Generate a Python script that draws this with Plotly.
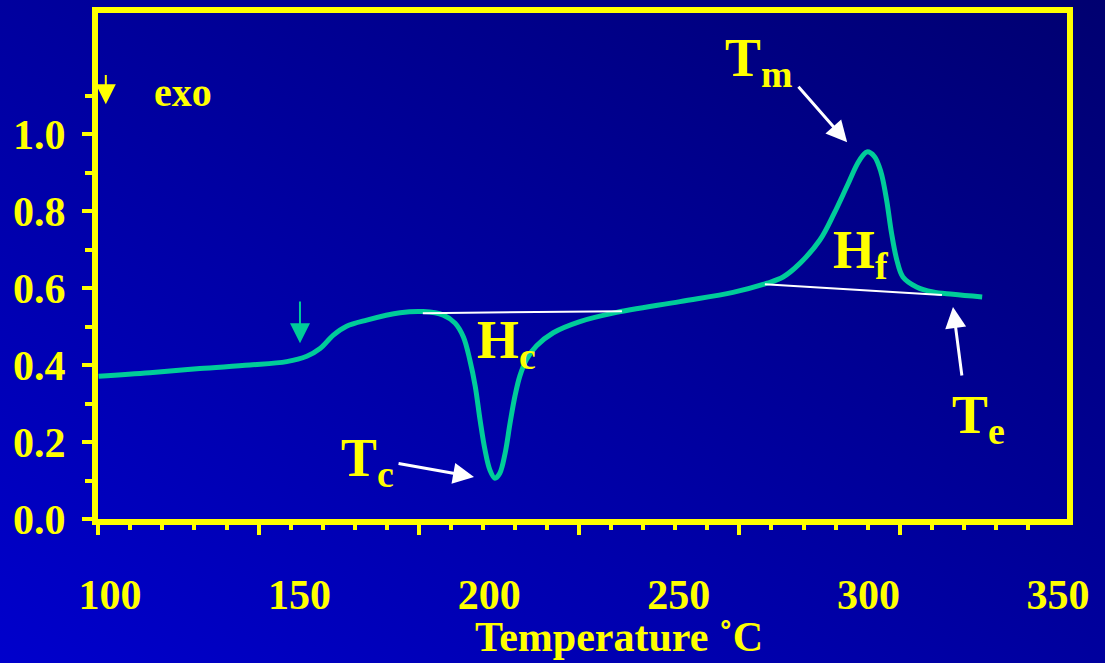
import base64
import plotly.graph_objects as go

# DSC heating trace: temperature (°C) and heat-flow signal
temperature = [97.0, 110.5, 123.7, 136.9, 146.6, 151.9, 155.4, 158.9, 162.4, 167.7,
               176.5, 182.6, 187.9, 191.0, 193.2, 194.9, 196.3, 197.6, 198.9, 200.2,
               201.5, 202.8, 204.2, 205.5, 206.8, 208.1, 209.9, 212.5, 216.9, 223.9,
               232.7, 250.3, 264.3, 273.3, 277.5, 282.0, 287.2, 291.0, 294.5,
               297.5, 299.6, 301.6, 303.3, 304.8, 306.1, 307.5, 309.1, 312.7, 317.0,
               322.3, 330.0]
heat_flow = [0.371, 0.380, 0.391, 0.400, 0.409, 0.423, 0.443, 0.478, 0.501, 0.517,
             0.536, 0.539, 0.530, 0.509, 0.473, 0.413, 0.346, 0.257, 0.179, 0.127,
             0.106, 0.119, 0.171, 0.249, 0.320, 0.372, 0.416, 0.450, 0.484, 0.513,
             0.535, 0.565, 0.589, 0.613, 0.629, 0.665, 0.725, 0.795, 0.868,
             0.930, 0.954, 0.942, 0.902, 0.829, 0.743, 0.673, 0.629, 0.603, 0.590,
             0.584, 0.577]

# integration baselines for crystallisation and fusion peaks
hc_base_t = [182.5, 235.0]
hc_base_v = [0.535, 0.540]
hf_base_t = [272.7, 319.4]
hf_base_v = [0.610, 0.582]

# axis labelling
x_tick_vals = [100, 150, 200, 250, 300, 350]
x_tick_text = ["100", "150", "200", "250", "300", "350"]
y_tick_vals = [0.0, 0.2, 0.4, 0.6, 0.8, 1.0]
y_tick_text = ["0.0", "0.2", "0.4", "0.6", "0.8", "1.0"]
y_minor_vals = [0.1, 0.3, 0.5, 0.7, 0.9, 1.1]
# scale ruler marks along the bottom edge
ruler_major = [100, 150, 200, 250, 300, 350]
ruler_minor = [110, 120, 130, 140, 160, 170, 180, 190, 210, 220, 230, 240,
               260, 270, 280, 290, 310, 320, 330, 340, 360, 370, 380, 390]

YELLOW = "#FFFF00"
GREEN = "#00CC99"
WHITE = "#FFFFFF"
SERIF = "Liberation Serif"

W, H = 1105, 663
ML, MR, MT, MB = 98, 38, 13, 144
PW, PH = W - ML - MR, H - MT - MB

fig = go.Figure()

fig.add_trace(go.Scatter(
    x=temperature, y=heat_flow, mode="lines",
    line=dict(color=GREEN, width=5, shape="spline", smoothing=1.0),
    hoverinfo="skip", showlegend=False,
))
for bx, by in ((hc_base_t, hc_base_v), (hf_base_t, hf_base_v)):
    fig.add_trace(go.Scatter(
        x=bx, y=by, mode="lines", line=dict(color=WHITE, width=2),
        hoverinfo="skip", showlegend=False,
    ))
# invisible trace carrying the ruler axis
fig.add_trace(go.Scatter(x=[ruler_major[0]], y=[None], xaxis="x2",
                         mode="markers", showlegend=False, hoverinfo="skip"))

# diagonal blue background gradient
svg = (
    f'<svg xmlns="http://www.w3.org/2000/svg" width="{W}" height="{H}" '
    f'viewBox="0 0 {W} {H}" preserveAspectRatio="none">'
    '<defs><linearGradient id="g" x1="0" y1="1" x2="1" y2="0">'
    '<stop offset="0" stop-color="#0000CC"/>'
    '<stop offset="1" stop-color="#000070"/>'
    '</linearGradient></defs>'
    f'<rect width="{W}" height="{H}" fill="url(#g)"/></svg>'
)
bg_src = "data:image/svg+xml;base64," + base64.b64encode(svg.encode()).decode()

label_font = dict(family=SERIF, size=54, color=YELLOW, weight="bold")

def label(text, x, y):
    return dict(text=text, x=x, y=y, xref="x", yref="y", showarrow=False,
                xanchor="left", yanchor="middle", font=label_font)

def arrow(x, y, ax, ay, color=WHITE, width=3, size=1.4):
    return dict(text="", x=x, y=y, ax=ax, ay=ay, xref="x", yref="y",
                axref="x", ayref="y", showarrow=True, arrowhead=2,
                arrowsize=size, arrowwidth=width, arrowcolor=color, standoff=0)

annotations = [
    label("T<sub>c</sub>", 160.4, 0.15),
    label("T<sub>m</sub>", 261.6, 1.19),
    label("T<sub>e</sub>", 321.4, 0.26),
    label("H<sub>c</sub>", 196.2, 0.455),
    label("H<sub>f</sub>", 290.1, 0.69),
    arrow(196.0, 0.109, 175.7, 0.145),
    arrow(294.4, 0.979, 281.2, 1.127),
    arrow(322.3, 0.551, 324.7, 0.369),
    arrow(150.1, 0.457, 150.1, 0.569, color=GREEN, width=2, size=2.0),
    arrow(98.9, 1.078, 98.9, 1.158, color=YELLOW, width=2, size=2.0),
    dict(text="exo", x=111.1, y=1.109, xref="x", yref="y", showarrow=False,
         xanchor="left", yanchor="middle",
         font=dict(family=SERIF, size=40, color=YELLOW, weight="bold")),
    dict(text="Temperature ˚C", x=(619 - ML) / PW, y=(MT + PH - 637) / PH,
         xref="paper", yref="paper", showarrow=False,
         xanchor="center", yanchor="middle",
         font=dict(family=SERIF, size=42, color=YELLOW, weight="bold")),
]

fig.update_layout(
    width=W, height=H,
    margin=dict(l=ML, r=MR, t=MT, b=MB, pad=0, autoexpand=False),
    paper_bgcolor="#00009E",
    plot_bgcolor="rgba(0,0,0,0)",
    images=[dict(source=bg_src, xref="paper", yref="paper",
                 x=-ML / PW, y=(PH + MT) / PH, sizex=W / PW, sizey=H / PH,
                 xanchor="left", yanchor="top", sizing="stretch", layer="below")],
    xaxis=dict(
        range=[96.84, 352.37], showgrid=False, zeroline=False, automargin=False,
        showline=True, linecolor=YELLOW, linewidth=6, mirror=True,
        ticks="", tickmode="array", tickvals=x_tick_vals, ticktext=x_tick_text,
        tickfont=dict(family=SERIF, size=42, color=YELLOW, weight="bold"),
        ticklabelstandoff=34,
    ),
    xaxis2=dict(
        overlaying="x", anchor="y", side="bottom", automargin=False,
        range=[99.9, 402.2], showgrid=False, zeroline=False, showline=False,
        showticklabels=False,
        ticks="outside", tickmode="array", tickvals=ruler_major,
        ticklen=15, tickwidth=4, tickcolor=YELLOW,
        minor=dict(tickmode="array", tickvals=ruler_minor, ticks="outside",
                   ticklen=10, tickwidth=4, tickcolor=YELLOW, showgrid=False),
    ),
    yaxis=dict(
        range=[0, 1.315], showgrid=False, zeroline=False, automargin=False,
        showline=True, linecolor=YELLOW, linewidth=6, mirror=True,
        ticks="outside", tickmode="array", tickvals=y_tick_vals, ticktext=y_tick_text,
        ticklen=10, tickwidth=4, tickcolor=YELLOW,
        minor=dict(tickmode="array", tickvals=y_minor_vals, ticks="outside",
                   ticklen=7, tickwidth=4, tickcolor=YELLOW, showgrid=False),
        tickfont=dict(family=SERIF, size=42, color=YELLOW, weight="bold"),
        ticklabelstandoff=8,
    ),
    annotations=annotations,
    showlegend=False,
)

fig.write_html("out.html")
